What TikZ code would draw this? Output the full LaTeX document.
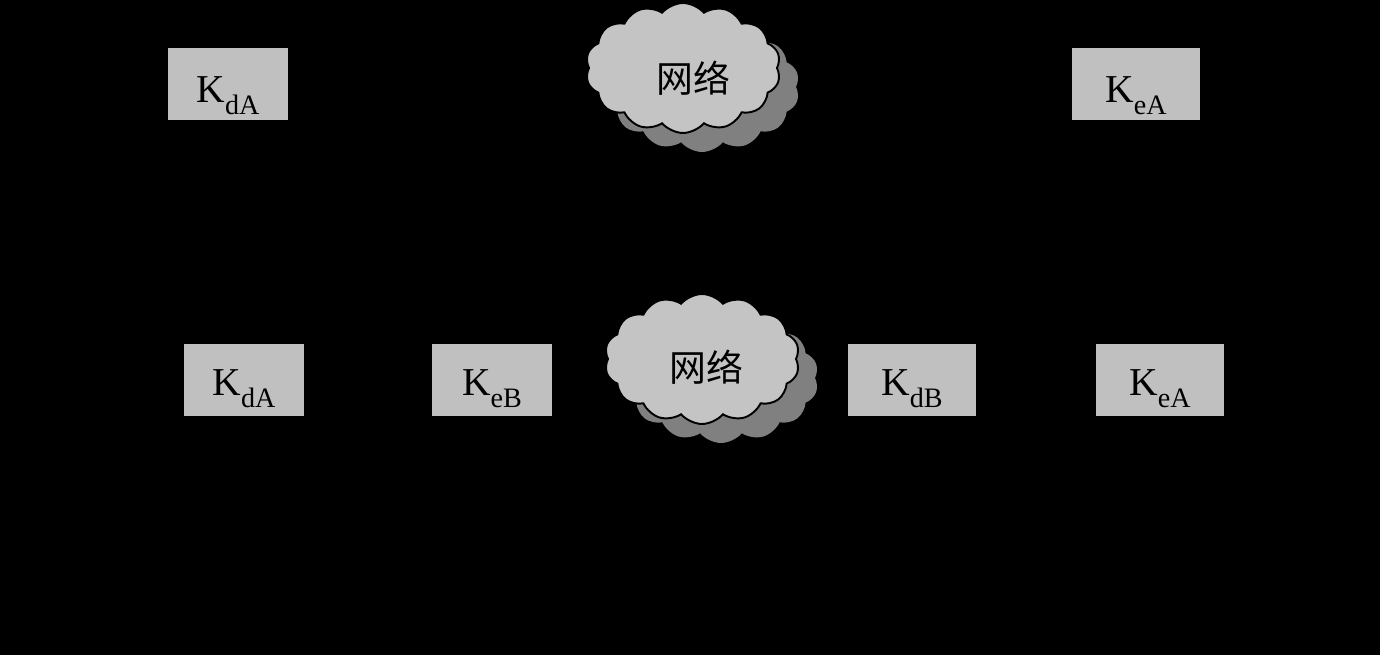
\documentclass[tikz,border=0pt]{standalone}
\usepackage{fontspec}
\setmainfont{Liberation Serif}
\newfontfamily\cjk{Noto Sans CJK SC}
\usetikzlibrary{shapes.symbols,shadows,arrows.meta}
\tikzset{
  keybox/.style={fill=boxgray, draw=none, minimum width=2.4cm, minimum height=1.44cm, inner sep=0pt, font=\fontsize{22.5}{24}\selectfont},
  widebox/.style={keybox, minimum width=2.56cm},
  net/.style={cloud, cloud puffs=14, cloud puff arc=100, aspect=1.5, draw=black, line width=1.1pt, fill=cloudgray,
    minimum width=3.9cm, minimum height=2.6cm, inner sep=0pt,
    drop shadow={shadow xshift=0.38cm, shadow yshift=-0.38cm, fill=shadowgray, opacity=1}},
  conn/.style={-{Latex[length=7pt]}, draw=black, line width=0.8pt}
}
\definecolor{boxgray}{HTML}{C0C0C0}
\definecolor{cloudgray}{HTML}{C4C4C4}
\definecolor{shadowgray}{HTML}{808080}
\newcommand{\kk}[3]{\smash{\raisebox{-#3}{K\raisebox{-0.3em}{\fontsize{16}{17}\selectfont #1#2}}}}
\begin{document}
\begin{tikzpicture}[x=0.02cm,y=-0.02cm]
\fill[black] (0,0) rectangle (1380,655);
\useasboundingbox (0,0) rectangle (1380,655);
% top row
\node[keybox] (kda1) at (228,84) {\kk{d}{A}{0.37cm}};
\node[widebox] (kea1) at (1136,84) {\kk{e}{A}{0.37cm}};
\node[net] (net1) at (683,68) {};
\node at (693,78) {\cjk\fontsize{21}{24}\selectfont 网络};
% bottom row
\node[keybox] (kda2) at (244,380) {\kk{d}{A}{0.31cm}};
\node[keybox] (keb) at (492,380) {\kk{e}{B}{0.31cm}};
\node[net] (net2) at (702,359) {};
\node at (706,367) {\cjk\fontsize{21}{24}\selectfont 网络};
\node[widebox] (kdb) at (912,380) {\kk{d}{B}{0.31cm}};
\node[widebox] (kea2) at (1160,380) {\kk{e}{A}{0.31cm}};
% connectors (black on black, as in the reference)
\coordinate (in1) at (60,84);
\coordinate (out1) at (1320,84);
\coordinate (in2) at (60,380);
\coordinate (out2) at (1320,380);
\coordinate (n1w) at (585,84);
\coordinate (n1e) at (800,84);
\coordinate (n2w) at (604,380);
\coordinate (n2e) at (820,380);
\draw[conn] (in1) -- (kda1);
\draw[conn] (kda1) -- (n1w);
\draw[conn] (n1e) -- (kea1);
\draw[conn] (kea1) -- (out1);
\draw[conn] (in2) -- (kda2);
\draw[conn] (kda2) -- (keb);
\draw[conn] (keb) -- (n2w);
\draw[conn] (n2e) -- (kdb);
\draw[conn] (kdb) -- (kea2);
\draw[conn] (kea2) -- (out2);
\end{tikzpicture}
\end{document}
